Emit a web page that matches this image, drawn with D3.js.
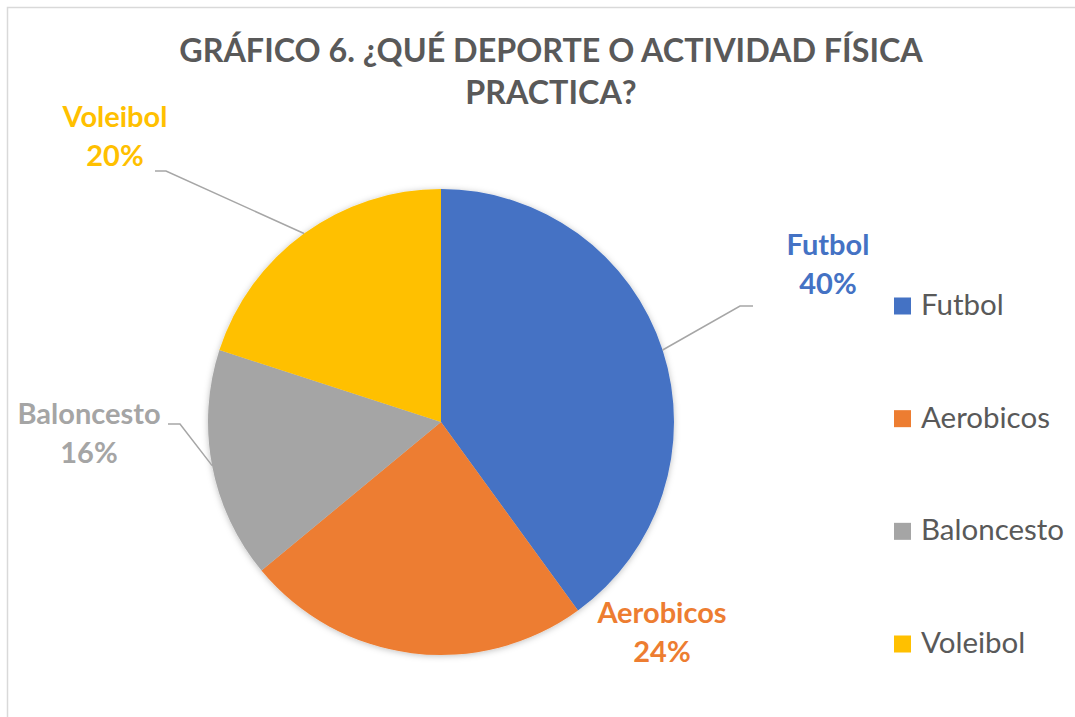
<!DOCTYPE html>
<html>
<head>
    <meta charset="utf-8">
    <title>Gráfico 6</title>
    <script src="https://d3js.org/d3.v7.min.js"></script>
    <style>
        body { margin: 0; background: #fff; }
        svg text { font-family: Lato, "Open Sans", sans-serif; }
    </style>
</head>
<body>
    <div id="chart"></div>

    <script>
        // data
        const categories = ["Futbol", "Aerobicos", "Baloncesto", "Voleibol"];
        const shares = [40, 24, 16, 20];
        const colors = ["#4472C4", "#ED7D31", "#A5A5A5", "#FFC000"];
        const titleLines = ["GRÁFICO 6. ¿QUÉ DEPORTE O ACTIVIDAD FÍSICA", "PRACTICA?"];

        const width = 1075, height = 717;
        const cx = 441, cy = 422, radius = 233;

        // label placement: text centre, first baseline, leader elbow
        const labelPos = {
            Futbol:     { x: 828, y: 255, lineY: 306, x0: 753, x1: 740 },
            Aerobicos:  { x: 662, y: 623, lineY: null },
            Baloncesto: { x: 89,  y: 424, lineY: 424, x0: 168, x1: 180 },
            Voleibol:   { x: 115, y: 127, lineY: 171, x0: 155, x1: 166 }
        };

        const svg = d3.select("#chart")
            .append("svg")
            .attr("width", width)
            .attr("height", height);

        const defs = svg.append("defs");
        defs.append("filter")
            .attr("id", "shadow")
            .attr("x", "-10%").attr("y", "-10%")
            .attr("width", "120%").attr("height", "120%")
            .append("feDropShadow")
            .attr("dx", 0).attr("dy", 1)
            .attr("stdDeviation", 3)
            .attr("flood-color", "#000")
            .attr("flood-opacity", 0.25);

        // chart area border
        svg.append("rect")
            .attr("x", 7.5).attr("y", 7.5)
            .attr("width", width + 20).attr("height", height + 20)
            .attr("fill", "none")
            .attr("stroke", "#D9D9D9")
            .attr("stroke-width", 1.5);

        // title
        svg.append("g")
            .selectAll("text")
            .data(titleLines)
            .join("text")
            .attr("x", 551)
            .attr("y", (d, i) => 62 + i * 42)
            .attr("text-anchor", "middle")
            .attr("fill", "#595959")
            .attr("font-size", 32.3)
            .attr("font-weight", "bold")
            .text(d => d);

        const data = categories.map((c, i) => ({ name: c, value: shares[i], color: colors[i] }));

        const pie = d3.pie()
            .value(d => d.value)
            .sort(null);

        const arc = d3.arc()
            .innerRadius(0)
            .outerRadius(radius);

        const arcs = pie(data);

        const g = svg.append("g")
            .attr("transform", `translate(${cx},${cy})`);

        g.append("g")
            .attr("filter", "url(#shadow)")
            .selectAll("path")
            .data(arcs)
            .join("path")
            .attr("d", arc)
            .attr("fill", d => d.data.color);

        // leader lines: from slice edge at mid angle, to elbow, then short horizontal
        arcs.forEach(a => {
            const p = labelPos[a.data.name];
            if (p.lineY == null) return;
            const mid = (a.startAngle + a.endAngle) / 2;
            const ax = cx + radius * Math.sin(mid);
            const ay = cy - radius * Math.cos(mid);
            svg.append("polyline")
                .attr("points", `${ax},${ay} ${p.x1},${p.lineY} ${p.x0},${p.lineY}`)
                .attr("fill", "none")
                .attr("stroke", "#A6A6A6")
                .attr("stroke-width", 1.5);
        });

        // data labels
        const lab = svg.append("g")
            .selectAll("text")
            .data(arcs)
            .join("text")
            .attr("text-anchor", "middle")
            .attr("fill", d => d.data.color)
            .attr("font-size", 29)
            .attr("font-weight", "bold");

        lab.append("tspan")
            .attr("x", d => labelPos[d.data.name].x)
            .attr("y", d => labelPos[d.data.name].y)
            .text(d => d.data.name);
        lab.append("tspan")
            .attr("x", d => labelPos[d.data.name].x)
            .attr("y", d => labelPos[d.data.name].y + 38.5)
            .text(d => d.data.value + "%");

        // legend
        const legendY = d3.scalePoint()
            .domain(categories)
            .range([306, 644]);

        const leg = svg.append("g")
            .selectAll("g")
            .data(data)
            .join("g")
            .attr("transform", d => `translate(894,${legendY(d.name)})`);

        leg.append("rect")
            .attr("x", 0).attr("y", -8.5)
            .attr("width", 17).attr("height", 17)
            .attr("fill", d => d.color);

        leg.append("text")
            .attr("x", 27)
            .attr("y", 9)
            .attr("fill", "#595959")
            .attr("font-size", 29.5)
            .text(d => d.name);
    </script>
</body>
</html>
